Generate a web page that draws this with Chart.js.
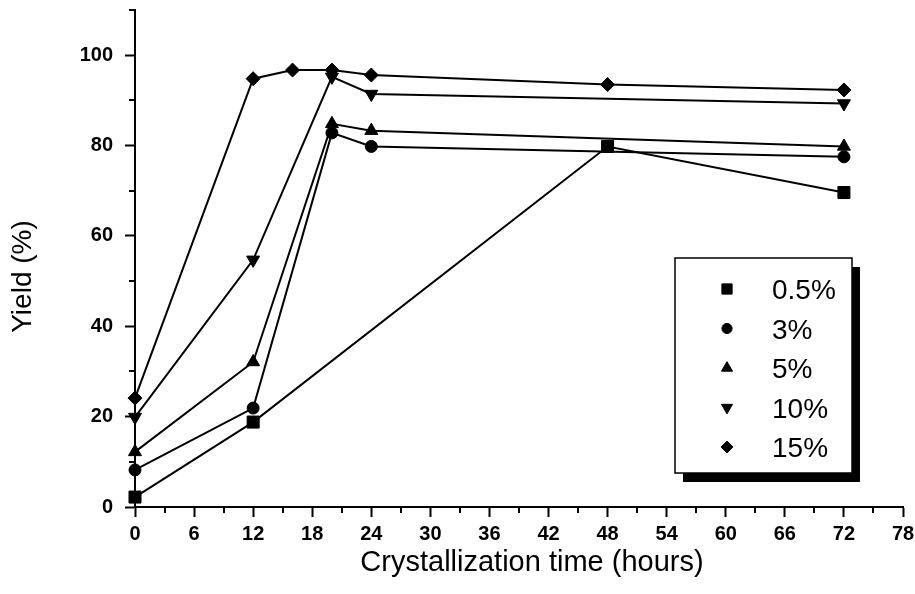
<!DOCTYPE html>
<html>
<head>
<meta charset="utf-8">
<title>Yield vs crystallization time</title>
<script src="https://cdn.jsdelivr.net/npm/chart.js@4.4.1/dist/chart.umd.min.js"></script>
<style>
	html, body { margin: 0; padding: 0; background: #fff; }
	#chart-wrap { width: 915px; height: 594px; }
</style>
</head>
<body>
<div id="chart-wrap"><canvas id="yield-chart" width="915" height="594"></canvas></div>
<script>

/*  Values  */

let seriesLabels = ['0.5%', '3%', '5%', '10%', '15%'];

let hours05 = [0, 12, 48, 72];
let yield05 = [2.2, 18.8, 79.8, 69.6];

let hours3 = [0, 12, 20, 24, 72];
let yield3 = [8.2, 21.9, 82.8, 79.8, 77.5];

let hours5 = [0, 12, 20, 24, 72];
let yield5 = [12.2, 32.1, 84.8, 83.3, 79.8];

let hours10 = [0, 12, 20, 24, 72];
let yield10 = [19.9, 54.7, 95.2, 91.4, 89.3];

let hours15 = [0, 12, 16, 20, 24, 48, 72];
let yield15 = [24.1, 94.8, 96.7, 96.7, 95.6, 93.5, 92.3];

let xTicksMajor = 6;
let yTicksMajor = 20;

let xTitle = 'Crystallization time (hours)';
let yTitle = 'Yield (%)';

const FONT = '"Liberation Sans", Arial, Helvetica, sans-serif';

function toPoints(xs, ys) {
	let pts = [];
	for (let i = 0; i < xs.length; i++) {
		pts.push({ x: xs[i], y: ys[i] });
	}
	return pts;
}

function series(label, xs, ys, style, radius, rotation) {
	return {
		label: label,
		data: toPoints(xs, ys),
		borderColor: '#000',
		borderWidth: 2,
		backgroundColor: '#000',
		pointStyle: style,
		pointRadius: radius,
		pointRotation: rotation || 0,
		pointBorderWidth: 1,
		pointBorderColor: '#000',
		pointBackgroundColor: '#000',
		tension: 0,
		clip: false
	};
}

/* short ticks between the labelled ones */
const minorTicks = {
	id: 'minorTicks',
	afterDraw(chart) {
		let ctx = chart.ctx;
		let xs = chart.scales.x;
		let ys = chart.scales.y;
		ctx.save();
		ctx.strokeStyle = '#000';
		ctx.lineWidth = 2;
		ctx.beginPath();
		xs.ticks.forEach(function (t) {
			if (t.value % xTicksMajor !== 0) {
				let px = Math.round(xs.getPixelForValue(t.value));
				ctx.moveTo(px, xs.top);
				ctx.lineTo(px, xs.top + 6);
			}
		});
		ys.ticks.forEach(function (t) {
			if (t.value % yTicksMajor !== 0) {
				let py = Math.round(ys.getPixelForValue(t.value));
				ctx.moveTo(ys.right, py);
				ctx.lineTo(ys.right - 6, py);
			}
		});
		ctx.stroke();
		ctx.restore();
	}
};

/* axis titles, set a little off centre like the original */
const axisTitles = {
	id: 'axisTitles',
	afterDraw(chart) {
		let ctx = chart.ctx;
		let area = chart.chartArea;
		ctx.save();
		ctx.fillStyle = '#000';
		ctx.textAlign = 'center';
		ctx.textBaseline = 'middle';
		ctx.font = '29px ' + FONT;
		ctx.fillText(xTitle, (area.left + area.right) / 2 + 13, 563);
		ctx.translate(23, (area.top + area.bottom) / 2 + 18);
		ctx.rotate(-Math.PI / 2);
		ctx.font = '28px ' + FONT;
		ctx.fillText(yTitle, 0, 0);
		ctx.restore();
	}
};

/* framed legend with a drop shadow */
const boxLegend = {
	id: 'boxLegend',
	afterDraw(chart) {
		let ctx = chart.ctx;
		let left = 675, top = 258, w = 177, h = 215;
		ctx.save();
		ctx.fillStyle = '#000';
		ctx.fillRect(left + 8, top + 9, w, h);
		ctx.fillStyle = '#fff';
		ctx.fillRect(left, top, w, h);
		ctx.strokeStyle = '#000';
		ctx.lineWidth = 1.5;
		ctx.strokeRect(left, top, w, h);

		ctx.font = '28px ' + FONT;
		ctx.textBaseline = 'alphabetic';
		chart.data.datasets.forEach(function (ds, i) {
			let y = top + 31 + i * 39.5;
			ctx.fillStyle = '#000';
			ctx.strokeStyle = '#000';
			ctx.lineWidth = 1;
			Chart.helpers.drawPoint(ctx, {
				pointStyle: ds.pointStyle,
				rotation: ds.pointRotation,
				radius: ds.pointRadius * 0.85,
				borderWidth: 1
			}, left + 52, y);
			ctx.fillText(ds.label, left + 97, y + 10);
		});
		ctx.restore();
	}
};

let ctxY = document.getElementById('yield-chart').getContext('2d');
let yieldChart = new Chart(ctxY, {
	type: 'line',
	data: {
		datasets: [
			series(seriesLabels[0], hours05, yield05, 'rect', 8.5),
			series(seriesLabels[1], hours3, yield3, 'circle', 6),
			series(seriesLabels[2], hours5, yield5, 'triangle', 7.5),
			series(seriesLabels[3], hours10, yield10, 'triangle', 7.5, 180),
			series(seriesLabels[4], hours15, yield15, 'rectRot', 7)
		]
	},
	options: {
		responsive: false,
		animation: false,
		layout: {
			padding: { left: 0, right: 12, top: 10, bottom: 0 }
		},
		plugins: {
			legend: { display: false },
			tooltip: { enabled: false }
		},
		scales: {
			x: {
				type: 'linear',
				min: 0,
				max: 78,
				afterFit: function (scale) {
					scale.height = 87;
					scale.paddingLeft = 0;
					scale.paddingRight = 0;
				},
				border: { color: '#000', width: 2 },
				grid: {
					drawOnChartArea: false,
					drawTicks: true,
					tickLength: 10,
					tickWidth: 2,
					tickColor: function (c) {
						return c.tick && c.tick.value % xTicksMajor === 0 ? '#000' : 'rgba(0,0,0,0)';
					}
				},
				ticks: {
					stepSize: 3,
					autoSkip: false,
					maxRotation: 0,
					padding: 5,
					color: '#000',
					font: { family: FONT, size: 20, weight: 'bold' },
					callback: function (v) { return v % xTicksMajor === 0 ? v : ''; }
				},
				title: { display: false, text: xTitle }
			},
			y: {
				type: 'linear',
				min: 0,
				max: 110,
				afterFit: function (scale) {
					scale.width = 135;
					scale.paddingTop = 0;
					scale.paddingBottom = 0;
				},
				border: { color: '#000', width: 2 },
				grid: {
					drawOnChartArea: false,
					drawTicks: true,
					tickLength: 10,
					tickWidth: 2,
					tickColor: function (c) {
						return c.tick && c.tick.value % yTicksMajor === 0 ? '#000' : 'rgba(0,0,0,0)';
					}
				},
				ticks: {
					stepSize: 10,
					autoSkip: false,
					padding: 12,
					color: '#000',
					font: { family: FONT, size: 20, weight: 'bold' },
					callback: function (v) { return v % yTicksMajor === 0 && v <= 100 ? v : ''; }
				},
				title: { display: false, text: yTitle }
			}
		}
	},
	plugins: [minorTicks, axisTitles, boxLegend]
});
</script>
</body>
</html>
